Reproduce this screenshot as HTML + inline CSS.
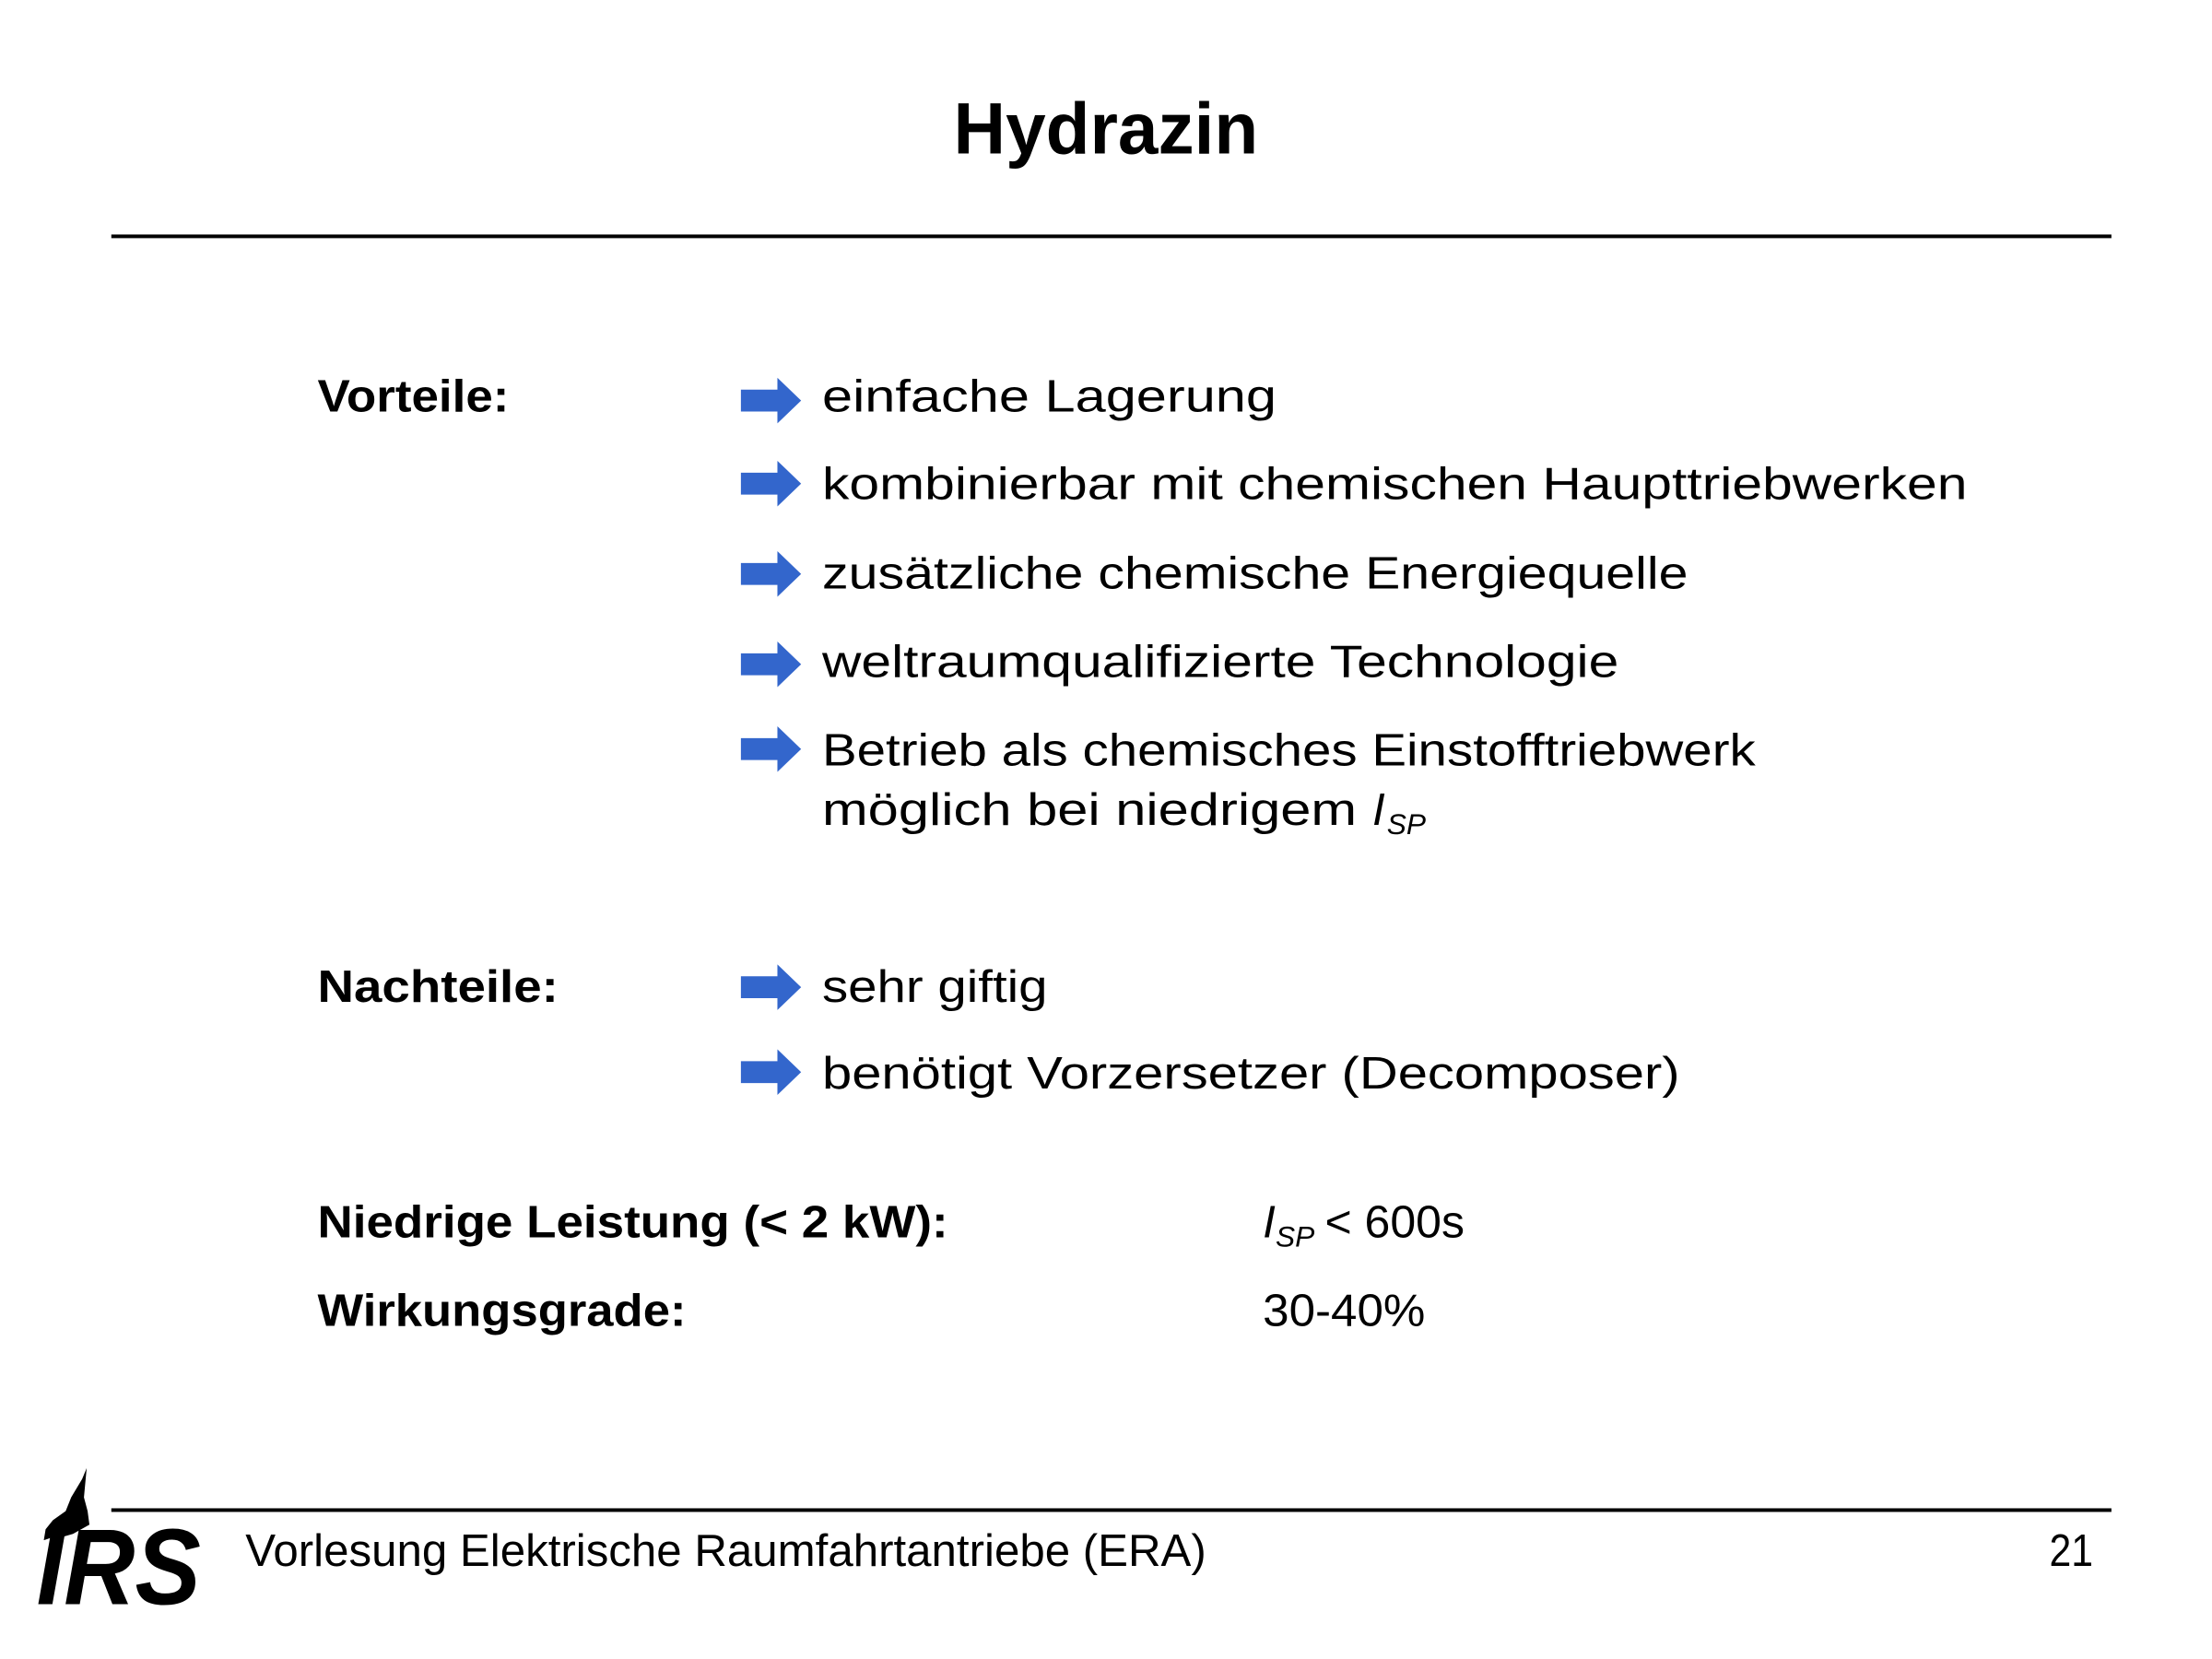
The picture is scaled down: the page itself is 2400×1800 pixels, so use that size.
<!DOCTYPE html>
<html><head><meta charset="utf-8"><style>
html,body{margin:0;padding:0;background:#fff;}
svg{display:block;}
text{font-family:"Liberation Sans",sans-serif;fill:#000;}
.b{font-size:50px;}
.l{font-size:50px;font-weight:bold;}
</style></head><body>
<svg width="2400" height="1800" viewBox="0 0 2400 1800" xmlns="http://www.w3.org/2000/svg">
<defs>
<polygon id="ar" points="0,-12 40,-12 40,-25 66,0 40,25 40,12 0,12" fill="#3366cc"/>
</defs>
<g transform="scale(0.99)">
<text x="1045" y="168" font-size="80" font-weight="bold" textLength="334" lengthAdjust="spacingAndGlyphs">Hydrazin</text>
<rect x="122" y="257" width="2192" height="4" fill="#000"/>

<text class="l" x="348" y="451" textLength="210" lengthAdjust="spacingAndGlyphs">Vorteile:</text>
<use href="#ar" x="812" y="439"/>
<text class="b" x="901" y="451" textLength="498" lengthAdjust="spacingAndGlyphs">einfache Lagerung</text>
<use href="#ar" x="812" y="530"/>
<text class="b" x="901" y="547" textLength="1255" lengthAdjust="spacingAndGlyphs">kombinierbar mit chemischen Haupttriebwerken</text>
<use href="#ar" x="812" y="629"/>
<text class="b" x="901" y="645" textLength="949" lengthAdjust="spacingAndGlyphs">zusätzliche chemische Energiequelle</text>
<use href="#ar" x="812" y="728"/>
<text class="b" x="901" y="742" textLength="873" lengthAdjust="spacingAndGlyphs">weltraumqualifizierte Technologie</text>
<use href="#ar" x="812" y="821"/>
<text class="b" x="901" y="839" textLength="1023" lengthAdjust="spacingAndGlyphs">Betrieb als chemisches Einstofftriebwerk</text>
<text class="b" x="901" y="904" textLength="586" lengthAdjust="spacingAndGlyphs">möglich bei niedrigem</text>
<text class="b" x="1504" y="904" font-style="italic">I</text>
<text x="1520" y="914" font-size="32" font-style="italic">SP</text>

<text class="l" x="348" y="1098" textLength="264" lengthAdjust="spacingAndGlyphs">Nachteile:</text>
<use href="#ar" x="812" y="1082"/>
<text class="b" x="901" y="1098" textLength="247" lengthAdjust="spacingAndGlyphs">sehr giftig</text>
<use href="#ar" x="812" y="1175"/>
<text class="b" x="901" y="1193" textLength="940" lengthAdjust="spacingAndGlyphs">benötigt Vorzersetzer (Decomposer)</text>

<text class="l" x="348" y="1356" textLength="691" lengthAdjust="spacingAndGlyphs">Niedrige Leistung (&lt; 2 kW):</text>
<text class="b" x="1384" y="1356" font-style="italic">I</text>
<text x="1398" y="1366" font-size="32" font-style="italic">SP</text>
<text class="b" x="1452" y="1356" textLength="153" lengthAdjust="spacingAndGlyphs">&lt; 600s</text>
<text class="l" x="348" y="1453" textLength="404" lengthAdjust="spacingAndGlyphs">Wirkungsgrade:</text>
<text class="b" x="1384" y="1453" textLength="178" lengthAdjust="spacingAndGlyphs">30-40%</text>

<rect x="122" y="1653" width="2192" height="4" fill="#000"/>
<text class="b" x="269" y="1716" font-size="48" textLength="1053" lengthAdjust="spacingAndGlyphs">Vorlesung Elektrische Raumfahrtantriebe (ERA)</text>
<text class="b" x="2246" y="1716" font-size="48" textLength="48" lengthAdjust="spacingAndGlyphs">21</text>

<g transform="translate(0,16)">
<polygon points="95,1593 90,1605 78,1625 72,1640 58,1650 50,1660 48,1672 60,1668 62,1700 70,1668 80,1665 98,1655 96,1640 92,1625" fill="#000"/>
<text x="40" y="1742" font-size="118" font-weight="bold" font-style="italic" textLength="180" lengthAdjust="spacingAndGlyphs">IRS</text>
</g>
</g>
</svg>
</body></html>
